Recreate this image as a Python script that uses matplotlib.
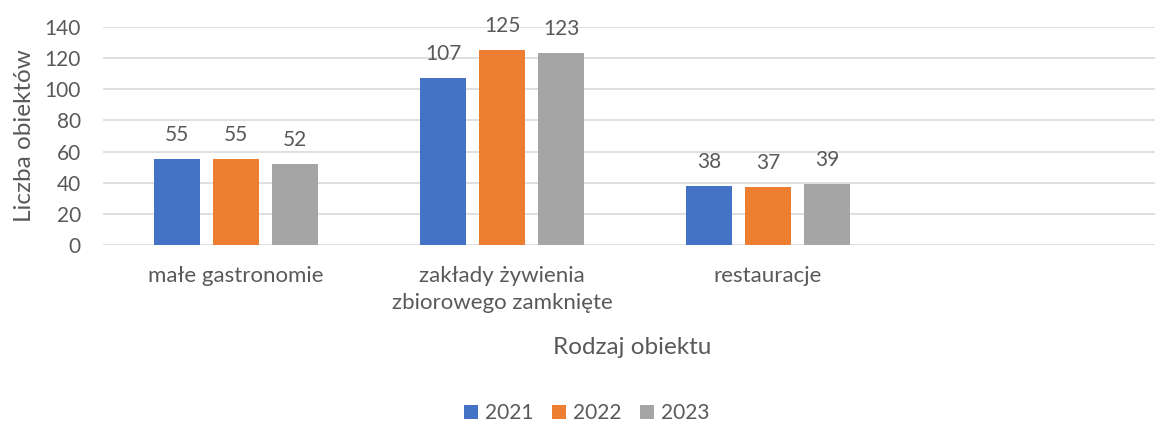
import matplotlib
matplotlib.use("Agg")
import matplotlib.pyplot as plt
import numpy as np

categories = ["małe gastronomie", "zakłady żywienia\nzbiorowego zamknięte", "restauracje", ""]
years = ["2021", "2022", "2023"]
v2021 = [55, 107, 38]
v2022 = [55, 125, 37]
v2023 = [52, 123, 39]
colors = ["#4472C4", "#ED7D31", "#A5A5A5"]

plt.rcParams['font.family'] = ['Lato', 'DejaVu Sans']
txt = "#595959"

W, H = 1155, 425
fig = plt.figure(figsize=(W/100, H/100), dpi=100)
x0, x1 = 103, 1167
ytop, ybot = 27, 245
ax = fig.add_axes([x0/W, 1 - ybot/H, (x1-x0)/W, (ybot-ytop)/H])

x = np.arange(len(categories))
bw = 46/266
step = 59/266
for i, (vals, c, lab) in enumerate(zip([v2021, v2022, v2023], colors, years)):
    xs = x[:len(vals)] + (i-1)*step
    bars = ax.bar(xs, vals, width=bw, color=c, label=lab, zorder=3)
    for b, v in zip(bars, vals):
        ax.text(b.get_x()+b.get_width()/2, v + 9, str(v), ha='center', va='bottom',
                fontsize=15, color=txt)

ax.set_xlim(-0.5, 3.5)
ax.set_ylim(0, 140)
ax.set_yticks(range(0, 141, 20))
ax.yaxis.grid(True, color="#D9D9D9", linewidth=1.2, zorder=0)
ax.set_axisbelow(True)
for s in ax.spines.values():
    s.set_visible(False)
ax.tick_params(axis='both', length=0, colors=txt)
ax.tick_params(axis='y', pad=16, labelsize=15)
ax.tick_params(axis='x', pad=15, labelsize=16)
ax.set_xticks(x)
ax.set_xticklabels(categories, color=txt, linespacing=1.45)
ax.set_ylabel("Liczba obiektów", fontsize=17.5, color=txt)
ax.yaxis.set_label_coords(-68/(x1-x0), 0.5)

fig.text(632/W, 1 - 348/H, "Rodzaj obiektu", ha='center', va='center', fontsize=17.5, color=txt)

handles, labels = ax.get_legend_handles_labels()
leg = fig.legend(handles, labels, loc='center', bbox_to_anchor=(587/W, 1 - 413/H), ncol=3,
                 frameon=False, fontsize=15, handlelength=0.65, handleheight=0.65,
                 handletextpad=0.35, columnspacing=0.9)
for t in leg.get_texts():
    t.set_color(txt)

fig.savefig("out.png", dpi=100)
